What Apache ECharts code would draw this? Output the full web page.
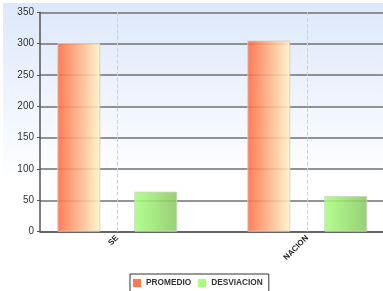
<!DOCTYPE html>
<html>
<head>
<meta charset="utf-8">
<script src="https://cdn.jsdelivr.net/npm/echarts@6/dist/echarts.min.js"></script>
<style>html,body{margin:0;padding:0;background:#fff;overflow:hidden}#c{width:403px;height:291px}</style>
</head>
<body>
<div id="c"></div>
<script>
var categories = ['SE', 'NACION'];
var promedio = [301, 305];
var desviacion = [64, 57];
var yTicks = [0, 50, 100, 150, 200, 250, 300, 350];
var seriesNames = ['PROMEDIO', 'DESVIACION'];
var legendColors = ['#ff6633', '#99ff66'];

var chart = echarts.init(document.getElementById('c'), null, {renderer: 'canvas'});
var G = echarts.graphic.LinearGradient;
var option = {
  animation: false,
  backgroundColor: '#ffffff',
  graphic: [{
    type: 'rect', z: -100, silent: true,
    shape: {x: 3, y: 3, width: 400, height: 260},
    style: {fill: new G(0, 0, 0, 1, [
      {offset: 0, color: '#dde8fa'},
      {offset: 0.68, color: '#ffffff'},
      {offset: 1, color: '#ffffff'}
    ])}
  }],
  legend: {
    data: seriesNames.map(function (n, i) { return {name: n, itemStyle: {color: legendColors[i], borderWidth: 0}}; }),
    left: 130, top: 274,
    orient: 'horizontal',
    padding: [4, 6, 4, 3],
    borderColor: '#333', borderWidth: 1,
    backgroundColor: '#fff',
    itemWidth: 8, itemHeight: 8, itemGap: 7,
    icon: 'rect',
    textStyle: {fontFamily: 'Liberation Sans', fontWeight: 'bold', fontSize: 8.3, color: '#333', lineHeight: 10}
  },
  grid: [
    {left: 40, top: 12.3, right: 20, bottom: 59.3, containLabel: false},
    {left: 22.3, top: 12.3, width: 380, bottom: 59.3, containLabel: false}
  ],
  xAxis: [
    {type: 'category', gridIndex: 0, data: categories,
     axisLine: {show: true, lineStyle: {color: '#555', width: 1.5}},
     axisTick: {show: false}, axisLabel: {show: false}, splitLine: {show: false}},
    {type: 'category', gridIndex: 1, data: categories,
     axisLine: {show: false}, axisTick: {show: false}, splitLine: {show: false},
     axisLabel: {rotate: 45, fontFamily: 'Liberation Sans', fontWeight: 'bold', fontSize: 8, color: '#222', margin: 5}}
  ],
  yAxis: [
    {type: 'value', gridIndex: 0, min: 0, max: 350, interval: 50,
     axisLine: {show: true, lineStyle: {color: '#555', width: 1.5}},
     axisTick: {show: true, length: 3, lineStyle: {color: '#555'}},
     axisLabel: {fontFamily: 'Liberation Sans', fontSize: 10, color: '#333', margin: 6,
       formatter: function (v) { return yTicks.indexOf(v) >= 0 ? String(v) : ''; }},
     splitLine: {show: true, lineStyle: {color: '#707070', width: 1.5}}},
    {type: 'value', gridIndex: 1, min: 0, max: 350, interval: 50, show: false,
     splitLine: {show: false}}
  ],
  series: [
    {name: seriesNames[0], type: 'bar', xAxisIndex: 1, yAxisIndex: 1, data: promedio,
     barWidth: 43, barGap: '79%',
     itemStyle: {opacity: 0.88, borderColor: '#cfcfc4', borderWidth: 1,
       color: new G(0, 0, 1, 0, [{offset: 0, color: '#ff6a40'}, {offset: 1, color: '#fff6c8'}])}},
    {name: seriesNames[1], type: 'bar', xAxisIndex: 1, yAxisIndex: 1, data: desviacion,
     barWidth: 43,
     itemStyle: {opacity: 0.88, borderColor: '#c8d8c0', borderWidth: 1,
       color: new G(0, 0, 1, 0, [{offset: 0, color: '#a8ff80'}, {offset: 1, color: '#8cc864'}])}},
    {name: 'guides', type: 'line', xAxisIndex: 1, yAxisIndex: 1, data: [null, null],
     symbol: 'none', silent: true, z: 1,
     markLine: {silent: true, symbol: 'none', label: {show: false},
       lineStyle: {color: '#cdd2da', type: 'dashed', width: 1},
       data: [{xAxis: 'SE'}, {xAxis: 'NACION'}]}}
  ]
};
chart.setOption(option);
</script>
</body>
</html>
